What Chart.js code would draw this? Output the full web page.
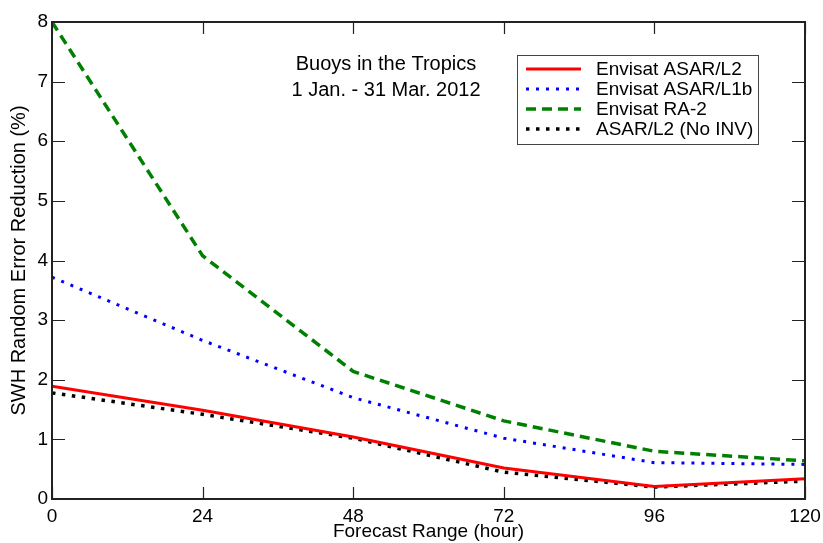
<!DOCTYPE html>
<html>
<head>
  <meta charset="utf-8">
  <title>SWH Random Error Reduction</title>
  <script src="https://cdn.jsdelivr.net/npm/chart.js"></script>
  <style>
    body { margin: 0; padding: 0; background: #ffffff; }
    #wrap { width: 823px; height: 543px; position: relative; }
  </style>
</head>
<body>
  <div id="wrap"><canvas id="swhChart" width="823" height="543"></canvas></div>

  <script>
    // data
    const forecastHours = [0, 24, 48, 72, 96, 120];
    const asarL2 = [1.89, 1.49, 1.04, 0.52, 0.21, 0.34];
    const asarL1b = [3.72, 2.66, 1.70, 1.02, 0.61, 0.58];
    const ra2 = [8.0, 4.08, 2.14, 1.31, 0.80, 0.64];
    const asarL2NoInv = [1.78, 1.42, 1.02, 0.45, 0.20, 0.30];

    const seriesNames = ['Envisat ASAR/L2', 'Envisat ASAR/L1b', 'Envisat RA-2', 'ASAR/L2 (No INV)'];
    const titleLines = ['Buoys in the Tropics', '1 Jan. - 31 Mar. 2012'];

    const FONT = "'Liberation Sans', Arial, sans-serif";

    function pts(vals) {
      return forecastHours.map((h, i) => ({ x: h, y: vals[i] }));
    }

    // box, inner ticks, title text and legend
    const decorPlugin = {
      id: 'decor',
      afterDraw(chart) {
        const ctx = chart.ctx;
        const a = chart.chartArea;
        const xs = chart.scales.x;
        const ys = chart.scales.y;
        ctx.save();

        // frame
        ctx.strokeStyle = '#222';
        ctx.lineWidth = 2;
        ctx.strokeRect(a.left, a.top, a.right - a.left, a.bottom - a.top);

        // inward ticks
        ctx.lineWidth = 1.2;
        ctx.beginPath();
        forecastHours.forEach(h => {
          const px = Math.round(xs.getPixelForValue(h)) + 0.5;
          ctx.moveTo(px, a.bottom); ctx.lineTo(px, a.bottom - 12);
          ctx.moveTo(px, a.top); ctx.lineTo(px, a.top + 12);
        });
        for (let v = 0; v <= 8; v++) {
          const py = Math.round(ys.getPixelForValue(v)) + 0.5;
          ctx.moveTo(a.left, py); ctx.lineTo(a.left + 13, py);
          ctx.moveTo(a.right, py); ctx.lineTo(a.right - 13, py);
        }
        ctx.stroke();

        // title text
        ctx.fillStyle = '#000';
        ctx.font = '20px ' + FONT;
        ctx.textAlign = 'center';
        ctx.textBaseline = 'middle';
        ctx.fillText(titleLines[0], 386, 64);
        ctx.fillText(titleLines[1], 386, 90);

        // legend
        const bx = 517, by = 55, bw = 241, bh = 89;
        ctx.fillStyle = '#fff';
        ctx.fillRect(bx, by, bw, bh);
        ctx.strokeStyle = '#444';
        ctx.lineWidth = 1;
        ctx.strokeRect(bx + 0.5, by + 0.5, bw, bh);
        ctx.font = '19px ' + FONT;
        ctx.textAlign = 'left';
        chart.data.datasets.forEach((ds, i) => {
          const y = 69 + i * 20;
          ctx.save();
          ctx.strokeStyle = ds.borderColor;
          ctx.lineWidth = ds.borderWidth;
          ctx.setLineDash(ds.borderDash || []);
          ctx.beginPath();
          ctx.moveTo(526, y);
          ctx.lineTo(581, y);
          ctx.stroke();
          ctx.restore();
          ctx.fillStyle = '#000';
          ctx.fillText(ds.label, 596, y + 1);
        });
        ctx.restore();
      }
    };

    const ctx = document.getElementById('swhChart').getContext('2d');
    new Chart(ctx, {
      type: 'line',
      data: {
        datasets: [
          {
            label: seriesNames[0],
            data: pts(asarL2),
            borderColor: '#ff0000',
            borderWidth: 3,
            pointRadius: 0,
            tension: 0
          },
          {
            label: seriesNames[1],
            data: pts(asarL1b),
            borderColor: '#0000ff',
            borderWidth: 3,
            borderDash: [3, 7],
            pointRadius: 0,
            tension: 0
          },
          {
            label: seriesNames[2],
            data: pts(ra2),
            borderColor: '#008000',
            borderWidth: 3.5,
            borderDash: [10, 6],
            pointRadius: 0,
            tension: 0
          },
          {
            label: seriesNames[3],
            data: pts(asarL2NoInv),
            borderColor: '#000000',
            borderWidth: 3.5,
            borderDash: [3.5, 6.5],
            pointRadius: 0,
            tension: 0
          }
        ]
      },
      options: {
        responsive: false,
        animation: false,
        devicePixelRatio: 1,
        layout: { padding: { top: 22, right: 18, left: 0, bottom: 0 } },
        plugins: {
          legend: { display: false },
          tooltip: { enabled: false }
        },
        scales: {
          x: {
            type: 'linear',
            min: 0,
            max: 120,
            afterBuildTicks: s => { s.ticks = forecastHours.map(v => ({ value: v })); },
            afterFit: s => { s.height = 44; s.paddingLeft = 0; s.paddingRight = 0; },
            grid: { display: false, drawTicks: false },
            border: { display: false },
            ticks: { padding: 6, color: '#000', font: { family: FONT, size: 19 }, maxRotation: 0 },
            title: {
              display: true,
              text: 'Forecast Range (hour)',
              color: '#000',
              font: { family: FONT, size: 19 },
              padding: { top: 0, bottom: 0 }
            }
          },
          y: {
            min: 0,
            max: 8,
            afterFit: s => { s.width = 52; s.paddingTop = 0; s.paddingBottom = 0; },
            grid: { display: false, drawTicks: false },
            border: { display: false },
            ticks: { stepSize: 1, padding: 4, color: '#000', font: { family: FONT, size: 19 } },
            title: {
              display: true,
              text: 'SWH Random Error Reduction (%)',
              color: '#000',
              font: { family: FONT, size: 20 },
              padding: { top: 7, bottom: 0 }
            }
          }
        }
      },
      plugins: [decorPlugin]
    });
  </script>
</body>
</html>
